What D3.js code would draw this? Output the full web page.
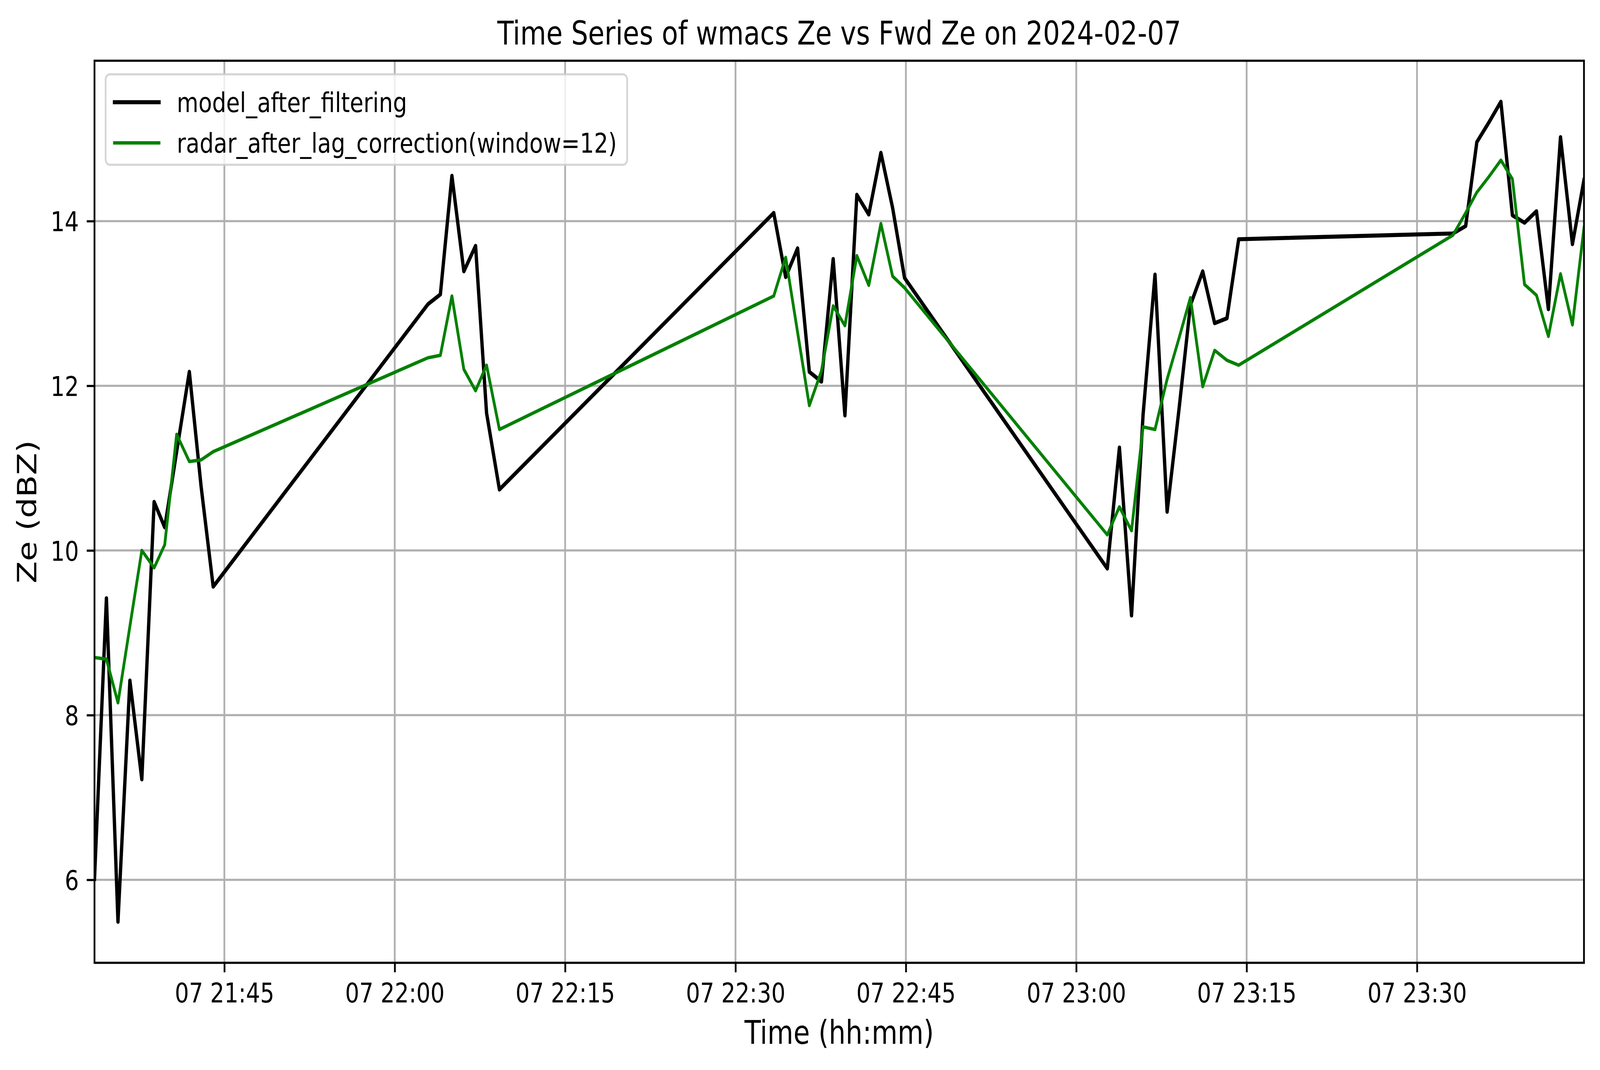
<!DOCTYPE html>
<html>
<head>
<meta charset="utf-8">
<script src="https://cdn.jsdelivr.net/npm/d3@7"></script>
<style>
  html, body { margin: 0; padding: 0; background: white; overflow: hidden; }
  svg { display: block; }
  text { font-family: "DejaVu Sans", sans-serif; fill: black; }
</style>
</head>
<body>
<script>
// Data (all on 2024-02-07)
var day = "2024-02-07";
var times = [
  "21:33:34","21:34:37","21:35:38","21:36:41","21:37:44","21:38:49","21:39:45","21:40:48","21:41:55","21:42:57","21:44:01",
  "22:02:55","22:04:01","22:05:02","22:06:05","22:07:07","22:08:05","22:09:13",
  "22:33:22","22:34:25","22:35:28","22:36:30","22:37:34","22:38:36","22:39:38","22:40:41","22:41:44","22:42:48","22:43:50","22:44:53",
  "23:02:44","23:03:48","23:04:52","23:05:53","23:06:56","23:08:00","23:09:03","23:10:03","23:11:08","23:12:11","23:13:16","23:14:18",
  "23:33:10","23:34:17","23:35:16","23:36:20","23:37:23","23:38:24","23:39:28","23:40:31","23:41:34","23:42:38","23:43:41","23:44:42"
];
var modelZe = [
  6.01, 9.42, 5.49, 8.42, 7.22, 10.59, 10.28, 11.20, 12.17, 10.78, 9.56,
  12.99, 13.11, 14.55, 13.39, 13.70, 11.67, 10.74,
  14.10, 13.32, 13.67, 12.17, 12.05, 13.54, 11.64, 14.32, 14.08, 14.83, 14.16, 13.31,
  9.78, 11.25, 9.21, 11.65, 13.35, 10.47, 11.72, 12.98, 13.39, 12.76, 12.82, 13.78,
  13.85, 13.94, 14.96, 15.20, 15.45, 14.07, 13.98, 14.12, 12.93, 15.02, 13.72, 14.50
];
var radarZe = [
  8.70, 8.68, 8.15, 9.08, 10.00, 9.79, 10.07, 11.41, 11.08, 11.10, 11.20,
  12.34, 12.37, 13.09, 12.20, 11.94, 12.25, 11.47,
  13.09, 13.56, 12.65, 11.76, 12.18, 12.97, 12.73, 13.58, 13.22, 13.97, 13.33, 13.19,
  10.19, 10.53, 10.24, 11.50, 11.47, 12.08, 12.58, 13.07, 11.99, 12.43, 12.31, 12.25,
  13.83, 14.10, 14.35, 14.54, 14.74, 14.51, 13.23, 13.10, 12.60, 13.36, 12.74, 13.92
];
var seriesNames = ["model_after_filtering", "radar_after_lag_correction(window=12)"];
var seriesColors = ["black", "green"];
var xTickTimes = ["21:45","22:00","22:15","22:30","22:45","23:00","23:15","23:30"];
var yTickValues = [6, 8, 10, 12, 14];

var titleText = "Time Series of wmacs Ze vs Fwd Ze on " + day;
var xLabel = "Time (hh:mm)";
var yLabel = "Ze (dBZ)";

// Figure geometry in figure pixels (matplotlib at 500 dpi: 1pt = 6.944px);
// the svg viewBox maps it onto whatever the viewport is
var W = 4995, H = 2740;
var pt = 500 / 72;
var fs = 10 * pt, fsBig = 12 * pt;
var plotL = 295, plotR = 4945, plotT = 155.5, plotB = 2465.5;

var parseT = d3.timeParse("%Y-%m-%d %H:%M:%S");
var parseTick = d3.timeParse("%Y-%m-%d %H:%M");
var tDates = times.map(t => parseT(day + " " + t));
var series = [modelZe, radarZe].map((vals, k) => ({
  name: seriesNames[k],
  color: seriesColors[k],
  width: k == 0 ? 1.5 * pt : 1.25 * pt,
  points: vals.map((v, i) => ({t: tDates[i], v: v}))
}));

var x = d3.scaleTime()
  .domain(d3.extent(tDates))
  .range([plotL, plotR]);

var allV = modelZe.concat(radarZe);
var vMin = d3.min(allV), vMax = d3.max(allV), vPad = 0.05 * (vMax - vMin);
var y = d3.scaleLinear()
  .domain([vMin - vPad, vMax + vPad])
  .range([plotB, plotT]);

var svg = d3.select("body")
  .append("svg")
  .attr("viewBox", "0 0 " + W + " " + H)
  .attr("preserveAspectRatio", "none")
  .attr("width", window.innerWidth || W)
  .attr("height", window.innerHeight || H);

svg.append("defs").append("clipPath")
  .attr("id", "plotclip")
  .append("rect")
  .attr("x", plotL).attr("y", plotT)
  .attr("width", plotR - plotL).attr("height", plotB - plotT);

// Grid
var xTicks = xTickTimes.map(s => parseTick(day + " " + s));
svg.append("g")
  .selectAll("line")
  .data(xTicks)
  .enter()
  .append("line")
  .attr("x1", d => x(d)).attr("x2", d => x(d))
  .attr("y1", plotT).attr("y2", plotB)
  .attr("stroke", "#b0b0b0")
  .attr("stroke-width", 0.8 * pt);

svg.append("g")
  .selectAll("line")
  .data(yTickValues)
  .enter()
  .append("line")
  .attr("x1", plotL).attr("x2", plotR)
  .attr("y1", d => y(d)).attr("y2", d => y(d))
  .attr("stroke", "#b0b0b0")
  .attr("stroke-width", 0.8 * pt);

// Lines
var line = d3.line()
  .x(d => x(d.t))
  .y(d => y(d.v));

svg.append("g")
  .attr("clip-path", "url(#plotclip)")
  .selectAll("path")
  .data(series)
  .enter()
  .append("path")
  .attr("d", d => line(d.points))
  .attr("fill", "none")
  .attr("stroke", d => d.color)
  .attr("stroke-width", d => d.width)
  .attr("stroke-linejoin", "round")
  .attr("stroke-linecap", "square");

// Axes
var tickLen = 3.5 * pt, tickPad = 3.5 * pt;

var xAxis = svg.append("g")
  .attr("transform", "translate(0," + plotB + ")")
  .call(d3.axisBottom(x)
    .tickValues(xTicks)
    .tickFormat(d3.timeFormat("%d %H:%M"))
    .tickSize(tickLen)
    .tickPadding(tickPad));

var yAxis = svg.append("g")
  .attr("transform", "translate(" + plotL + ",0)")
  .call(d3.axisLeft(y)
    .tickValues(yTickValues)
    .tickFormat(d3.format("d"))
    .tickSize(tickLen)
    .tickPadding(tickPad));

[xAxis, yAxis].forEach(g => {
  g.select(".domain").remove();
  g.selectAll(".tick line").attr("stroke", "black").attr("stroke-width", 0.8 * pt);
  g.selectAll(".tick text")
    .attr("font-family", "DejaVu Sans")
    .attr("font-size", fs)
    .attr("fill", "black");
});
xAxis.selectAll(".tick text").attr("dy", "0.76em");
yAxis.selectAll(".tick text").attr("dy", "0.37em");

// Frame
svg.append("rect")
  .attr("x", plotL).attr("y", plotT)
  .attr("width", plotR - plotL).attr("height", plotB - plotT)
  .attr("fill", "none")
  .attr("stroke", "black")
  .attr("stroke-width", 0.8 * pt);

// Title and labels
svg.append("text")
  .attr("x", (plotL + plotR) / 2)
  .attr("y", 113.7)
  .attr("text-anchor", "middle")
  .attr("font-size", fsBig)
  .text(titleText);

svg.append("text")
  .attr("x", (plotL + plotR) / 2)
  .attr("y", 2673)
  .attr("text-anchor", "middle")
  .attr("font-size", fsBig)
  .text(xLabel);

svg.append("text")
  .attr("transform", "translate(113," + ((plotT + plotB) / 2) + ") rotate(-90)")
  .attr("text-anchor", "middle")
  .attr("font-size", fsBig)
  .text(yLabel);

// Legend (upper left)
var lgX = plotL + 0.5 * fs, lgY = plotT + 0.5 * fs;
var lgW = 1958 - lgX, lgH = 422 - lgY;
var lgRow0 = lgY + 0.4 * fs + 0.63 * fs, lgRowGap = 1.5 * fs;

var legend = svg.append("g");
legend.append("rect")
  .attr("x", lgX).attr("y", lgY)
  .attr("width", lgW).attr("height", lgH)
  .attr("rx", 0.2 * fs)
  .attr("fill", "white")
  .attr("fill-opacity", 0.8)
  .attr("stroke", "#cccccc")
  .attr("stroke-opacity", 0.8)
  .attr("stroke-width", 0.8 * pt);

var items = legend.selectAll(".item")
  .data(series)
  .enter()
  .append("g")
  .attr("class", "item")
  .attr("transform", (d, i) => "translate(0," + (lgRow0 + i * lgRowGap) + ")");

items.append("line")
  .attr("x1", lgX + 0.4 * fs)
  .attr("x2", lgX + 0.4 * fs + 2.0 * fs)
  .attr("stroke", d => d.color)
  .attr("stroke-width", d => d.width)
  .attr("stroke-linecap", "square");

items.append("text")
  .attr("x", lgX + 0.4 * fs + 2.8 * fs)
  .attr("dy", "0.36em")
  .attr("font-size", fs)
  .text(d => d.name);
</script>
</body>
</html>
